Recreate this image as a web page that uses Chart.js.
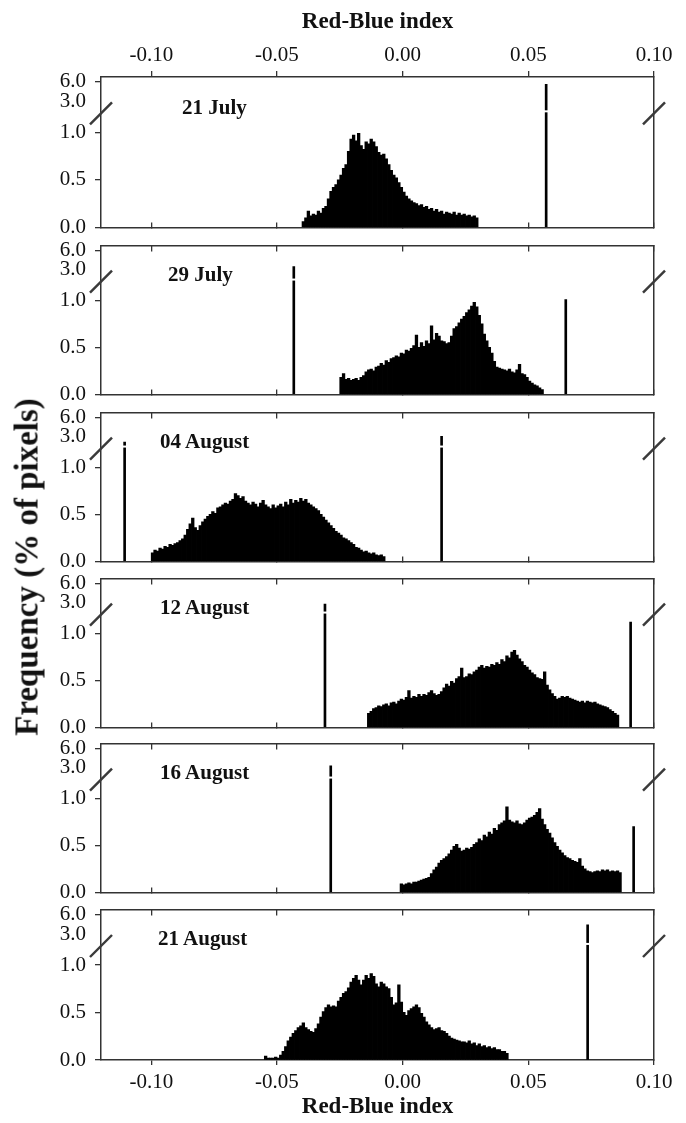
<!DOCTYPE html>
<html>
<head>
<meta charset="utf-8">
<script src="https://cdn.jsdelivr.net/npm/chart.js@4.4.0/dist/chart.umd.min.js"></script>
<style>
html, body { margin: 0; padding: 0; background: #fff; }
#page { position: relative; width: 686px; height: 1123px; overflow: hidden; background: #fff; }
#page canvas { position: absolute; left: 0; }
.lbl { position: absolute; font-family: "Liberation Serif", "Times New Roman", serif; font-weight: bold; color: #111; white-space: nowrap; line-height: 1; }
</style>
</head>
<body>
<div id="page"></div>
<script>
// ---------------- data ----------------
const xTickValues = [-0.10, -0.05, 0.00, 0.05, 0.10];
const yTickValues = [0.0, 0.5, 1.0, 3.0, 6.0];
const binWidth = 0.001;
const panelDates = ['21 July', '29 July', '04 August', '12 August', '16 August', '21 August'];
const axisTitle = 'Red-Blue index';
const yTitle = 'Frequency (% of pixels)';

const july21Start = -0.040;
const july21Freq = [0.06,0.10,0.17,0.12,0.14,0.13,0.17,0.15,0.20,0.22,
  0.30,0.38,0.42,0.45,0.50,0.55,0.62,0.66,0.80,0.93,
  0.97,0.91,0.99,0.86,0.82,0.90,0.88,0.93,0.90,0.85,
  0.79,0.76,0.77,0.72,0.66,0.60,0.55,0.52,0.47,0.42,
  0.37,0.33,0.30,0.28,0.26,0.25,0.23,0.24,0.21,0.22,
  0.19,0.20,0.17,0.19,0.16,0.17,0.14,0.16,0.15,0.14,
  0.16,0.13,0.15,0.13,0.14,0.12,0.13,0.11,0.12,0.10];
const july21SpikeX = [0.0571];
const july21SpikeFreq = [5.6];

const july29Start = -0.025;
const july29Freq = [0.18,0.22,0.16,0.17,0.15,0.16,0.17,0.15,0.18,0.20,
  0.24,0.26,0.27,0.25,0.29,0.30,0.33,0.31,0.36,0.34,
  0.38,0.39,0.41,0.40,0.44,0.43,0.47,0.46,0.49,0.52,
  0.63,0.50,0.55,0.51,0.57,0.54,0.73,0.58,0.65,0.62,
  0.57,0.56,0.54,0.55,0.62,0.70,0.72,0.76,0.80,0.83,
  0.87,0.90,0.94,0.98,0.93,0.84,0.75,0.64,0.57,0.50,
  0.44,0.35,0.29,0.28,0.27,0.26,0.25,0.27,0.24,0.23,
  0.26,0.32,0.22,0.21,0.18,0.14,0.12,0.10,0.09,0.07,
  0.05];
const july29SpikeX = [-0.0433, 0.0649];
const july29SpikeFreq = [3.5, 1.01];

const aug04Start = -0.100;
const aug04Freq = [0.09,0.12,0.11,0.14,0.13,0.16,0.15,0.18,0.17,0.19,
  0.20,0.22,0.24,0.28,0.34,0.40,0.46,0.36,0.33,0.38,
  0.42,0.45,0.48,0.50,0.53,0.51,0.57,0.58,0.60,0.62,
  0.61,0.64,0.66,0.72,0.70,0.67,0.69,0.64,0.62,0.60,
  0.63,0.61,0.58,0.62,0.65,0.60,0.58,0.56,0.60,0.57,
  0.59,0.61,0.58,0.63,0.60,0.66,0.62,0.65,0.63,0.67,
  0.64,0.66,0.62,0.60,0.58,0.56,0.54,0.50,0.47,0.44,
  0.41,0.38,0.35,0.32,0.30,0.28,0.25,0.24,0.22,0.20,
  0.18,0.15,0.14,0.12,0.10,0.11,0.09,0.08,0.09,0.07,
  0.06,0.07,0.05];
const aug04SpikeX = [-0.1106, 0.0155];
const aug04SpikeFreq = [2.2, 3.1];

const aug12Start = -0.014;
const aug12Freq = [0.15,0.17,0.20,0.21,0.23,0.22,0.24,0.25,0.23,0.26,
  0.27,0.25,0.28,0.30,0.29,0.32,0.39,0.31,0.33,0.32,
  0.35,0.33,0.35,0.34,0.37,0.39,0.36,0.34,0.35,0.38,
  0.42,0.46,0.44,0.49,0.47,0.52,0.54,0.63,0.53,0.54,
  0.57,0.56,0.59,0.61,0.64,0.66,0.63,0.65,0.64,0.67,
  0.66,0.69,0.67,0.72,0.70,0.76,0.74,0.80,0.82,0.77,
  0.73,0.70,0.66,0.64,0.61,0.58,0.56,0.53,0.52,0.51,
  0.59,0.45,0.40,0.36,0.33,0.30,0.31,0.33,0.32,0.33,
  0.31,0.30,0.29,0.28,0.27,0.28,0.26,0.28,0.27,0.26,
  0.27,0.25,0.24,0.23,0.22,0.21,0.19,0.17,0.15,0.13];
const aug12SpikeX = [-0.0309, 0.0907];
const aug12SpikeFreq = [2.8, 1.12];

const aug16Start = -0.001;
const aug16Freq = [0.09,0.08,0.09,0.10,0.09,0.11,0.11,0.12,0.13,0.14,
  0.15,0.16,0.20,0.24,0.27,0.31,0.34,0.36,0.38,0.41,
  0.45,0.49,0.51,0.47,0.44,0.45,0.47,0.46,0.48,0.51,
  0.53,0.57,0.55,0.61,0.59,0.64,0.62,0.68,0.66,0.72,
  0.74,0.76,0.91,0.77,0.75,0.74,0.76,0.73,0.72,0.74,
  0.77,0.79,0.80,0.82,0.85,0.89,0.78,0.72,0.67,0.63,
  0.58,0.53,0.49,0.45,0.42,0.39,0.37,0.36,0.34,0.33,
  0.32,0.36,0.28,0.25,0.23,0.22,0.21,0.22,0.23,0.22,
  0.24,0.23,0.24,0.22,0.23,0.22,0.23,0.21];
const aug16SpikeX = [-0.0286, 0.0919];
const aug16SpikeFreq = [3.3, 0.70];

const aug21Start = -0.055;
const aug21Freq = [0.04,0.02,0.02,0.02,0.03,0.02,0.05,0.09,0.14,0.20,
  0.24,0.28,0.31,0.34,0.36,0.39,0.34,0.32,0.30,0.29,
  0.33,0.38,0.45,0.51,0.55,0.58,0.56,0.57,0.56,0.62,
  0.66,0.70,0.72,0.76,0.82,0.86,0.89,0.84,0.79,0.84,
  0.89,0.86,0.91,0.88,0.80,0.77,0.82,0.80,0.77,0.75,
  0.66,0.58,0.60,0.79,0.61,0.50,0.47,0.52,0.54,0.56,
  0.58,0.55,0.49,0.45,0.40,0.37,0.34,0.32,0.33,0.34,
  0.31,0.30,0.28,0.25,0.23,0.22,0.21,0.20,0.19,0.19,
  0.18,0.20,0.17,0.18,0.15,0.17,0.14,0.15,0.13,0.14,
  0.12,0.13,0.11,0.11,0.09,0.09,0.07];
const aug21SpikeX = [0.0736];
const aug21SpikeFreq = [4.4];

// ---------------- helpers / layout ----------------
const SERIF = '"Liberation Serif", "Times New Roman", serif';
const AXIS = '#333';
const INK = '#111';
const X_MIN = -0.12, X_MAX = 0.10;
const BREAK = 1.2;          // break on the value axis
const UPPER_SCALE = 0.0694; // compression of the part above the break
const GAP_T = 1.222;        // white gap through the tall bars
function toAxis(v) { return v <= BREAK ? v : BREAK + (v - BREAK) * UPPER_SCALE; }

Chart.defaults.font.family = SERIF;
Chart.defaults.color = INK;
Chart.defaults.animation = false;

const panels = [
  { label: panelDates[0], start: july21Start, freq: july21Freq, spikeX: july21SpikeX, spikeFreq: july21SpikeFreq },
  { label: panelDates[1], start: july29Start, freq: july29Freq, spikeX: july29SpikeX, spikeFreq: july29SpikeFreq },
  { label: panelDates[2], start: aug04Start, freq: aug04Freq, spikeX: aug04SpikeX, spikeFreq: aug04SpikeFreq },
  { label: panelDates[3], start: aug12Start, freq: aug12Freq, spikeX: aug12SpikeX, spikeFreq: aug12SpikeFreq },
  { label: panelDates[4], start: aug16Start, freq: aug16Freq, spikeX: aug16SpikeX, spikeFreq: aug16SpikeFreq },
  { label: panelDates[5], start: aug21Start, freq: aug21Freq, spikeX: aug21SpikeX, spikeFreq: aug21SpikeFreq }
];

const panelTops = [77, 244, 411, 577, 742, 908];
const panelH = 152;
const labelLeft = [182, 168, 160, 160, 160, 158];
const Y_MAX = panelH / 96;

const breakPlugin = {
  id: 'axisBreak',
  afterDraw(chart) {
    const { ctx, chartArea: a, scales } = chart;
    const y = scales.y;
    const yb = y.getPixelForValue(BREAK);
    const yg = y.getPixelForValue(GAP_T);
    ctx.save();
    ctx.fillStyle = '#fff';
    ctx.fillRect(a.left + 1.5, yg - 1, a.right - a.left - 3, 2);
    ctx.strokeStyle = '#3a3a3a';
    ctx.lineWidth = 2.4;
    [a.left, a.right].forEach(x => {
      ctx.beginPath();
      ctx.moveTo(x - 11, yb + 11);
      ctx.lineTo(x + 11, yb - 11);
      ctx.stroke();
    });
    ctx.restore();
  }
};

function xAxis(pos, labelled, tl, h) {
  return {
    type: 'linear', position: pos, min: X_MIN, max: X_MAX, offset: false,
    afterBuildTicks: s => { s.ticks = xTickValues.map(v => ({ value: v })); },
    afterFit: s => { s.height = h; },
    grid: { display: true, drawOnChartArea: false, drawTicks: true, tickLength: tl, color: AXIS, lineWidth: 1.3, offset: false },
    border: { display: true, color: AXIS, width: 1.5 },
    ticks: { display: labelled, autoSkip: false, maxRotation: 0, padding: pos === 'top' ? 3 : 5,
             font: { size: 21 }, color: INK, callback: v => Number(v).toFixed(2) },
    title: { display: labelled, text: axisTitle, font: { size: 23, weight: 'bold' }, color: INK,
             padding: pos === 'top' ? { top: 8, bottom: 0 } : { top: 0, bottom: 2 } }
  };
}

const page = document.getElementById('page');

panels.forEach((p, i) => {
  const first = i === 0, last = i === panels.length - 1;
  const top = panelTops[i], bottom = top + panelH;
  const cTop = first ? 0 : top - 20;
  const cBottom = last ? 1123 : bottom + 20;
  const canvas = document.createElement('canvas');
  canvas.width = 686; canvas.height = cBottom - cTop;
  canvas.style.top = cTop + 'px';
  canvas.style.width = '686px'; canvas.style.height = (cBottom - cTop) + 'px';
  page.appendChild(canvas);
  const topH = top - cTop, botH = cBottom - bottom;

  const histData = p.freq.map((v, k) => ({ x: p.start + (k + 0.5) * binWidth, y: toAxis(v) }));
  const spikeData = p.spikeX.map((x, k) => ({ x: x, y: toAxis(p.spikeFreq[k]) }));

  new Chart(canvas, {
    type: 'bar',
    data: {
      datasets: [
        { data: histData, xAxisID: 'x', yAxisID: 'y', backgroundColor: '#000', borderWidth: 0,
          barPercentage: 1, categoryPercentage: 1, inflateAmount: 0.4, grouped: false },
        { data: spikeData, xAxisID: 'xs', yAxisID: 'y', backgroundColor: '#000', borderWidth: 0,
          barThickness: 2, grouped: false }
      ]
    },
    options: {
      responsive: false, animation: false, devicePixelRatio: 1,
      layout: { padding: 0 },
      plugins: { legend: { display: false }, tooltip: { enabled: false }, title: { display: false } },
      scales: {
        x: xAxis('bottom', last, last ? 5 : -5, botH),
        xt: xAxis('top', first, first ? 6 : -6, topH),
        xs: { type: 'linear', display: false, min: X_MIN, max: X_MAX, offset: false },
        y: {
          type: 'linear', position: 'left', min: 0, max: Y_MAX,
          afterBuildTicks: s => { s.ticks = yTickValues.map(v => ({ value: toAxis(v) })); },
          afterFit: s => { s.width = 101; },
          grid: { drawOnChartArea: false, drawTicks: true, tickLength: 6, color: AXIS, lineWidth: 1.3,
                  tickColor: ctx => (ctx.index === 3 ? 'rgba(0,0,0,0)' : AXIS) },
          border: { display: true, color: AXIS, width: 1.5 },
          ticks: { autoSkip: false, padding: 9, font: { size: 21 }, color: INK,
                   callback: (v, idx) => yTickValues[idx].toFixed(1) }
        },
        yr: {
          type: 'linear', position: 'right', min: 0, max: Y_MAX,
          afterFit: s => { s.width = 32; },
          grid: { drawOnChartArea: false, drawTicks: false },
          border: { display: true, color: AXIS, width: 1.5 },
          ticks: { display: false }
        }
      }
    },
    plugins: [breakPlugin]
  });

  const d = document.createElement('div');
  d.className = 'lbl';
  d.textContent = p.label;
  d.style.left = labelLeft[i] + 'px';
  d.style.top = (top + 30) + 'px';
  d.style.fontSize = '21px';
  d.style.transform = 'translateY(-50%)';
  page.appendChild(d);
});

const yt = document.createElement('div');
yt.className = 'lbl';
yt.textContent = yTitle;
yt.style.left = '27px';
yt.style.top = '567px';
yt.style.fontSize = '33px';
yt.style.transform = 'translate(-50%, -50%) rotate(-90deg)';
page.appendChild(yt);
</script>
</body>
</html>
